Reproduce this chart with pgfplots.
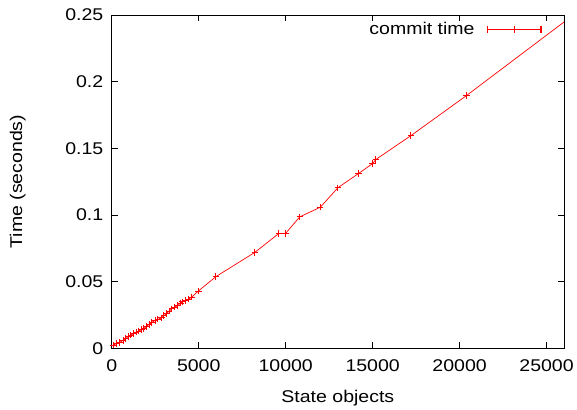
\documentclass[border=0pt]{standalone}
\usepackage{fontspec}
\setmainfont{Liberation Sans}[FakeStretch=1.15]
\usepackage{pgfplots}
\pgfplotsset{compat=1.18}
\usetikzlibrary{calc}
\definecolor{gpred}{RGB}{255,0,0}
\begin{document}
\begin{tikzpicture}
\begin{axis}[
  name=ax,
  scale only axis,
  width=453pt, height=334pt,
  xmin=0, xmax=26000, ymin=0, ymax=0.25,
  xtick={0,5000,...,25000},
  ytick={0,0.05,...,0.25},
  yticklabels={0,0.05,0.1,0.15,0.2,0.25},
  scaled x ticks=false, scaled y ticks=false,
  xticklabel style={/pgf/number format/fixed, /pgf/number format/1000 sep={}},
  /pgf/number format/assume math mode=true,
  tick align=inside, major tick length=6pt,
  minor tick num=0,
  tick style={black, line width=0.8pt},
  axis line style={black, line width=0.8pt},
  every tick label/.append style={font=\fontsize{17}{19}\selectfont},
  label style={font=\fontsize{17}{19}\selectfont},
  xticklabel style={yshift=-8pt},
  yticklabel style={xshift=-5pt},
  xlabel={State objects},
  ylabel={Time (seconds)},
  xlabel style={at={(axis description cs:0.5,-0.15)}, anchor=center},
  ylabel style={at={(axis description cs:-0.208,0.5)}, anchor=center},
  legend style={draw=none, fill=none, at={(0.958,0.99)}, anchor=north east,
    font=\fontsize{17}{19}\selectfont, legend plot pos=right,
    column sep=10pt},
  legend cell align=right,
]
\addplot[gpred, line width=0.7pt, mark=+, mark size=3.2pt, mark options={gpred, line width=1pt},
  legend image code/.code={
    \path[draw=gpred, line width=1.3pt] (0pt,0pt) -- (54pt,0pt)
      (0pt,-3.5pt) -- (0pt,3.5pt) (27pt,-3.5pt) -- (27pt,3.5pt) (54pt,-3.5pt) -- (54pt,3.5pt);
  }]
coordinates {
(100,0.0025) (250,0.0035) (450,0.0045) (650,0.0060) (800,0.0075) (950,0.0088)
(1100,0.0100) (1250,0.0110) (1400,0.0122) (1550,0.0130) (1700,0.0140) (1850,0.0150)
(2000,0.0165) (2150,0.0180) (2300,0.0195) (2500,0.0210) (2650,0.0218) (2850,0.0228)
(3000,0.0245) (3150,0.0262) (3300,0.0280) (3450,0.0297) (3600,0.0308) (3800,0.0322)
(3950,0.0340) (4050,0.0348) (4250,0.0360) (4400,0.0368) (4600,0.0385) (4980,0.0430)
(5990,0.0538) (8230,0.0720) (9600,0.0861) (9990,0.0861) (10810,0.0986) (11990,0.1058)
(13000,0.1204) (14190,0.1311) (15000,0.1386) (15180,0.1416) (17200,0.1595) (20390,0.1895)
(27000,0.2545)
};
\addlegendentry{commit time}
\end{axis}
\path ($(ax.south west)+(-112pt,-60pt)$) rectangle ($(ax.north east)+(12pt,15pt)$);
\end{tikzpicture}
\end{document}
